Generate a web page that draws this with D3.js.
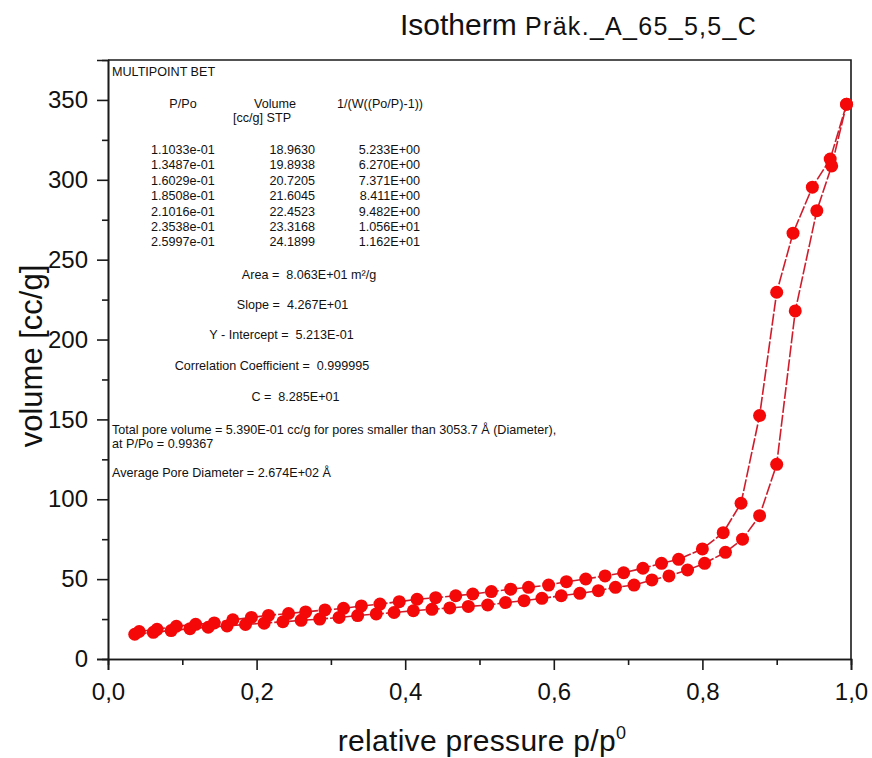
<!DOCTYPE html>
<html>
<head>
<meta charset="utf-8">
<script src="https://cdn.jsdelivr.net/npm/d3@7"></script>
<style>
  html, body { margin: 0; padding: 0; background: #fff; }
  svg { display: block; font-family: "Liberation Sans", Arial, sans-serif; }
  .pre { white-space: pre; }
</style>
</head>
<body>
<svg id="chart" width="872" height="758"></svg>
<script>
// Adsorption branch: relative pressure p/p0 and adsorbed volume [cc/g]
const adsP = [0.036, 0.061, 0.085, 0.11033, 0.13487, 0.16029, 0.18508, 0.21016, 0.23538, 0.25997,
  0.285, 0.311, 0.336, 0.361, 0.385, 0.411, 0.436, 0.460, 0.485, 0.511,
  0.535, 0.560, 0.584, 0.610, 0.635, 0.660, 0.683, 0.708, 0.732, 0.755,
  0.780, 0.803, 0.831, 0.854, 0.877, 0.900, 0.925, 0.954, 0.974, 0.994];
const adsV = [15.5, 16.7, 17.8, 18.963, 19.8938, 20.7205, 21.6045, 22.4523, 23.3168, 24.1899,
  25.0, 26.0, 27.2, 28.2, 29.1, 30.2, 31.1, 32.0, 32.9, 33.8,
  35.3, 36.5, 38.0, 39.6, 41.1, 42.8, 44.9, 46.3, 49.5, 52.0,
  55.7, 59.9, 66.8, 75.0, 89.7, 121.9, 217.9, 280.7, 308.7, 347.3];

// Desorption branch
const desP = [0.042, 0.066, 0.092, 0.118, 0.143, 0.168, 0.193, 0.216, 0.243, 0.266,
  0.292, 0.317, 0.341, 0.366, 0.392, 0.416, 0.441, 0.468, 0.491, 0.516,
  0.542, 0.566, 0.593, 0.617, 0.643, 0.669, 0.694, 0.720, 0.745, 0.768,
  0.800, 0.828, 0.852, 0.877, 0.900, 0.922, 0.948, 0.972, 0.994];
const desV = [17.2, 18.6, 20.5, 21.7, 22.6, 24.5, 26.0, 27.3, 28.5, 29.5,
  30.7, 31.7, 33.2, 34.4, 35.9, 37.4, 38.4, 39.6, 40.7, 42.2,
  43.7, 44.9, 46.3, 48.4, 50.1, 52.0, 54.0, 56.8, 59.9, 62.4,
  68.9, 79.1, 97.5, 152.4, 229.6, 266.6, 295.4, 313.0, 347.3];

// Axis ticks
const xMajorTicks = [0, 0.2, 0.4, 0.6, 0.8, 1.0];
const xMinorTicks = [0.1, 0.3, 0.5, 0.7, 0.9];
const yMajorTicks = [0, 50, 100, 150, 200, 250, 300, 350];
const yMinorTicks = [25, 75, 125, 175, 225, 275, 325];

// BET report table
const betHeaders = ["P/Po", "Volume", "1/(W((Po/P)-1))"];
const betP = ["1.1033e-01", "1.3487e-01", "1.6029e-01", "1.8508e-01", "2.1016e-01", "2.3538e-01", "2.5997e-01"];
const betVol = ["18.9630", "19.8938", "20.7205", "21.6045", "22.4523", "23.3168", "24.1899"];
const betW = ["5.233E+00", "6.270E+00", "7.371E+00", "8.411E+00", "9.482E+00", "1.056E+01", "1.162E+01"];
const betResults = [
  "Area =  8.063E+01 m²/g",
  "Slope =  4.267E+01",
  "Y - Intercept =  5.213E-01",
  "Correlation Coefficient =  0.999995",
  "C =  8.285E+01"
];
const poreLines = [
  "Total pore volume = 5.390E-01 cc/g for pores smaller than 3053.7 Å (Diameter),",
  "at P/Po = 0.99367",
  "Average Pore Diameter = 2.674E+02 Å"
];

const svg = d3.select("#chart");
const L = 108, R = 851, T = 60, B = 659;

const x = d3.scaleLinear().domain([0, 1]).range([L, R]);
const y = d3.scaleLinear().domain([0, 375]).range([B, T]);

const axisColor = "#1a1a1a";
const commaFmt = v => d3.format(".1f")(v).replace(".", ",");

// frame (top and right)
svg.append("path")
  .attr("d", `M${L},${T}H${R}V${B}`)
  .attr("fill", "none").attr("stroke", axisColor).attr("stroke-width", 1.6);

// x axis
const gx = svg.append("g").attr("transform", `translate(0,${B})`);
gx.call(d3.axisBottom(x).tickValues(xMajorTicks).tickSize(11).tickPadding(7).tickFormat(commaFmt));
const gxm = svg.append("g").attr("transform", `translate(0,${B})`);
gxm.call(d3.axisBottom(x).tickValues(xMinorTicks).tickSize(6).tickFormat(""));

// y axis
const gy = svg.append("g").attr("transform", `translate(${L},0)`);
gy.call(d3.axisLeft(y).tickValues(yMajorTicks).tickSize(11).tickPadding(9).tickFormat(d3.format("d")));
const gym = svg.append("g").attr("transform", `translate(${L},0)`);
gym.call(d3.axisLeft(y).tickValues(yMinorTicks).tickSize(6).tickFormat(""));

[gx, gxm, gy, gym].forEach(g => {
  g.select(".domain").attr("stroke", axisColor).attr("stroke-width", 1.6);
  g.selectAll(".tick line").attr("stroke", axisColor).attr("stroke-width", 1.6);
  g.selectAll(".tick text")
    .attr("fill", "#111")
    .style("font-family", "'Liberation Sans', Arial, sans-serif")
    .style("font-size", "24px");
});
gx.selectAll(".tick text").attr("dy", "0.95em");

// axis titles
svg.append("text")
  .attr("transform", `translate(42,${356}) rotate(-90)`)
  .attr("text-anchor", "middle")
  .attr("fill", "#111")
  .style("font-size", "31px")
  .text("volume [cc/g]");

const xt = svg.append("text")
  .attr("x", 482).attr("y", 751)
  .attr("text-anchor", "middle")
  .attr("fill", "#111")
  .style("font-size", "30px")
  .style("letter-spacing", "0.3px");
xt.append("tspan").text("relative pressure p/p");
xt.append("tspan").attr("dy", -12).style("font-size", "18px").text("0");

// chart title
const tt = svg.append("text").attr("x", 400).attr("y", 35).attr("fill", "#111");
tt.append("tspan").style("font-size", "30px").text("Isotherm ");
tt.append("tspan").style("font-size", "25px").style("letter-spacing", "1.3px").text("Präk._A_65_5,5_C");

// BET report block
const rep = svg.append("g").attr("fill", "#111").style("font-size", "12.6px");
rep.append("text").attr("x", 112).attr("y", 76).text("MULTIPOINT BET");
rep.append("text").attr("x", 183).attr("y", 108).attr("text-anchor", "middle").text(betHeaders[0]);
rep.append("text").attr("x", 275).attr("y", 108).attr("text-anchor", "middle").text(betHeaders[1]);
rep.append("text").attr("x", 233).attr("y", 122).text("[cc/g] STP");
rep.append("text").attr("x", 380).attr("y", 108).attr("text-anchor", "middle").text(betHeaders[2]);

const rowY = i => 154 + i * 15.4;
rep.selectAll("text.cp").data(betP).join("text").attr("class", "cp")
  .attr("x", 151).attr("y", (d, i) => rowY(i)).text(d => d);
rep.selectAll("text.cv").data(betVol).join("text").attr("class", "cv")
  .attr("x", 315).attr("y", (d, i) => rowY(i)).attr("text-anchor", "end").text(d => d);
rep.selectAll("text.cw").data(betW).join("text").attr("class", "cw")
  .attr("x", 420).attr("y", (d, i) => rowY(i)).attr("text-anchor", "end").text(d => d);

const resX = [309, 292.5, 281.5, 272, 295.5];
const resY = [279, 308.5, 339, 370, 401];
rep.selectAll("text.res").data(betResults).join("text").attr("class", "res pre")
  .attr("x", (d, i) => resX[i]).attr("y", (d, i) => resY[i])
  .attr("text-anchor", "middle").text(d => d);

const poreY = [434, 447.5, 477];
rep.selectAll("text.pore").data(poreLines).join("text").attr("class", "pore")
  .attr("x", 112).attr("y", (d, i) => poreY[i]).text(d => d);

// isotherm branches
const lineColor = "#cf1d2c";
const dotColor = "#f50808";
const line = d3.line().x(d => x(d[0])).y(d => y(d[1]));
const ads = adsP.map((p, i) => [p, adsV[i]]);
const des = desP.map((p, i) => [p, desV[i]]);

[ads, des].forEach(series => {
  svg.append("path").datum(series)
    .attr("d", line)
    .attr("fill", "none")
    .attr("stroke", lineColor)
    .attr("stroke-width", 1.6)
    .attr("stroke-dasharray", "12,2");
});
[ads, des].forEach(series => {
  svg.append("g").selectAll("circle").data(series).join("circle")
    .attr("cx", d => x(d[0])).attr("cy", d => y(d[1]))
    .attr("r", 6.5)
    .attr("fill", dotColor);
});
</script>
</body>
</html>
